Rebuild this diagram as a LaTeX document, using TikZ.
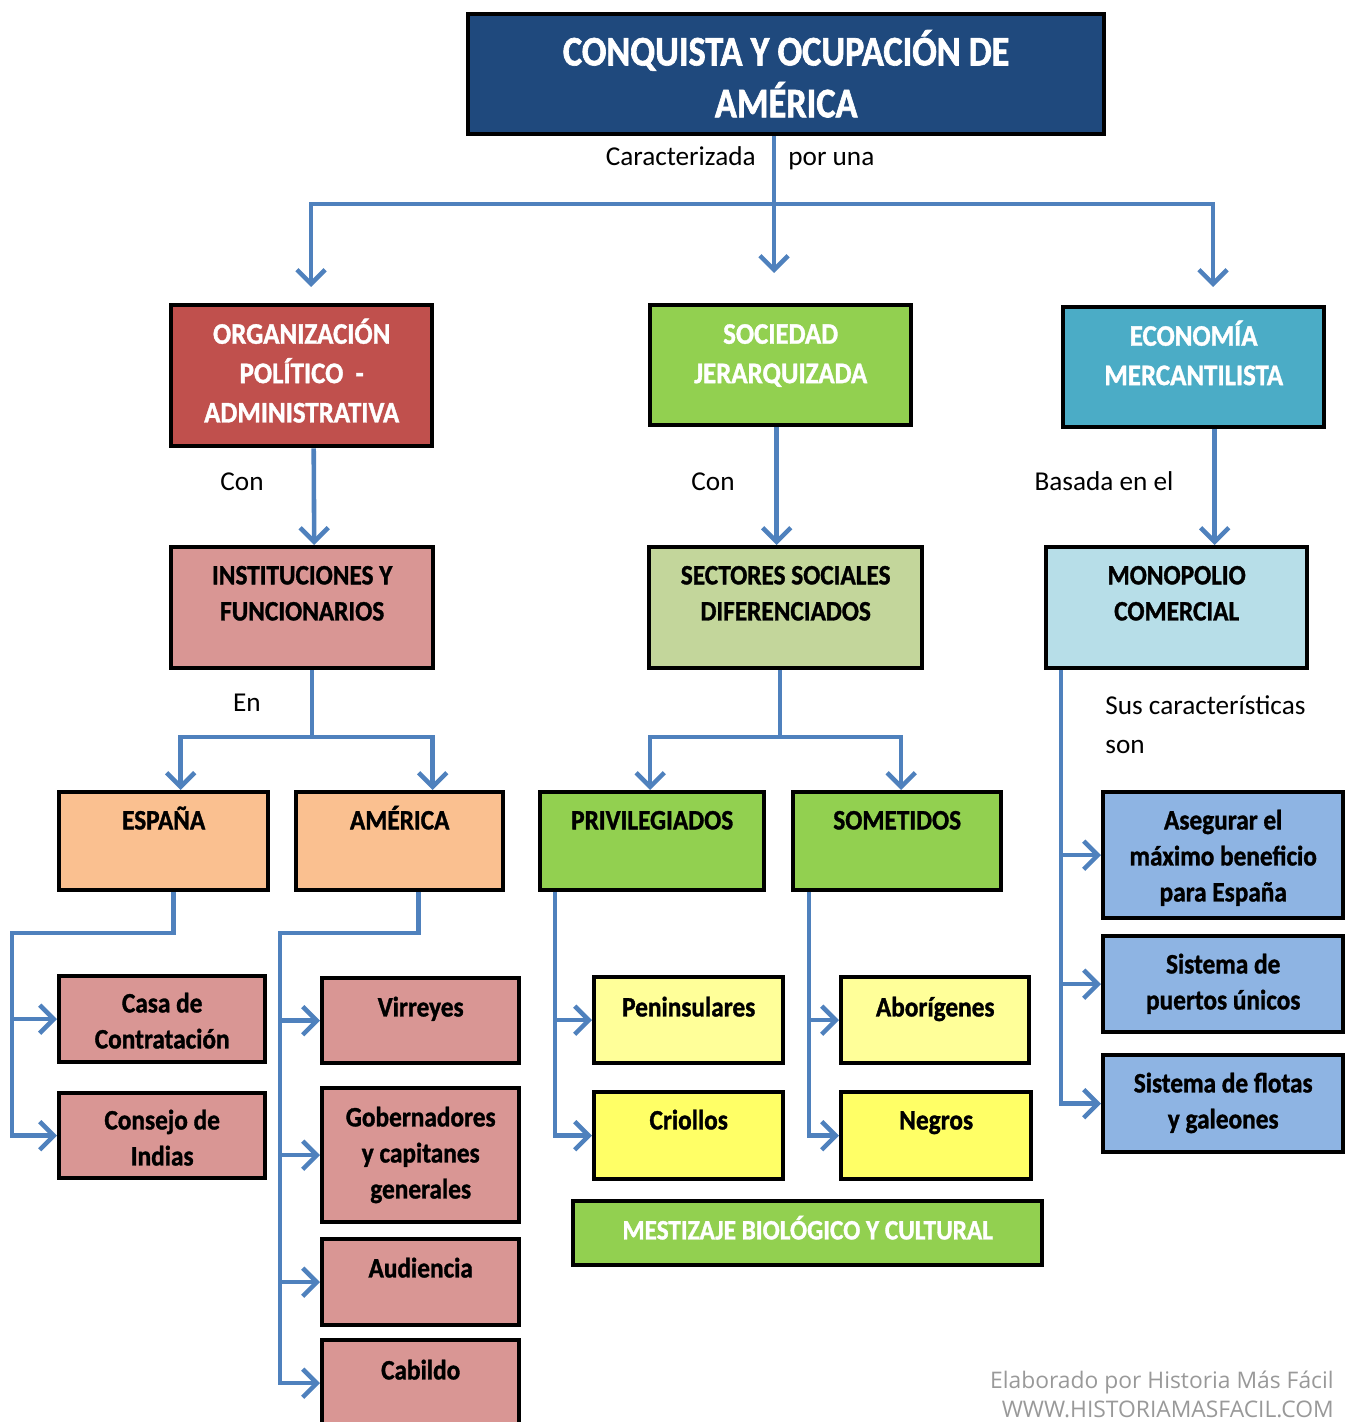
\documentclass[tikz,border=0pt]{standalone}
\usepackage{fontspec}
\setmainfont{Carlito}
\newfontfamily\cajafont[FakeStretch=0.9,FakeBold=1.2]{Carlito}
\newfontfamily\titulofont[FakeStretch=0.86,FakeBold=1.5]{Carlito}
\newfontfamily\piefont{Open Sans}
\usetikzlibrary{arrows.meta}

\definecolor{azuloscuro}{HTML}{1F497D}
\definecolor{azulflecha}{HTML}{4F81BD}
\definecolor{rojo}{HTML}{C0504D}
\definecolor{rosa}{HTML}{D99694}
\definecolor{verde}{HTML}{92D050}
\definecolor{verdeclaro}{HTML}{C3D69B}
\definecolor{turquesa}{HTML}{4BACC6}
\definecolor{celeste}{HTML}{B7DEE8}
\definecolor{naranja}{HTML}{FAC090}
\definecolor{amarillo}{HTML}{FFFF99}
\definecolor{amarillofuerte}{HTML}{FFFF66}
\definecolor{lila}{HTML}{8EB4E3}

\newdimen\px \px=0.02cm
% box text: [gap]{width}{height}{text}
\newcommand\caja[4][12]{\parbox[c][#3\px][t]{#2\px}{\centering\vspace*{#1\px}\strut#4\par}}

\begin{document}
\begin{tikzpicture}[x=0.02cm,y=-0.02cm,
    caja/.style={draw=black,line width=2.5pt,inner sep=0pt,anchor=north west,
        font=\cajafont\bfseries\fontsize{16pt}{20.5pt}\selectfont},
    cajagrande/.style={caja,font=\cajafont\bfseries\fontsize{17pt}{22.4pt}\selectfont,text=white},
    etiqueta/.style={font=\fontsize{15.5pt}{19pt}\selectfont,inner sep=0pt},
    linea/.style={draw=azulflecha,line width=2.6pt},
    flecha/.style={linea,-{Straight Barb[length=8pt,width=16pt]}}]

    \useasboundingbox (0,0) rectangle (1346,1422);
    \clip (0,0) rectangle (1346,1422);

    % main title
    \node[caja,fill=azuloscuro,text=white,font=\titulofont\bfseries\fontsize{24pt}{29.5pt}\selectfont] (titulo) at (466,12)
        {\caja[15]{636}{120}{CONQUISTA Y OCUPACIÓN DE\\AMÉRICA}};

    % first level
    \node[cajagrande,fill=rojo] (org) at (169,303) {\caja[11]{261}{141}{ORGANIZACIÓN\\POLÍTICO \ -\\ADMINISTRATIVA}};
    \node[cajagrande,fill=verde] (soc) at (648,303) {\caja[11]{261}{120}{SOCIEDAD\\JERARQUIZADA}};
    \node[cajagrande,fill=turquesa] (eco) at (1061,305) {\caja[11]{261}{120}{ECONOMÍA\\MERCANTILISTA}};

    % second level
    \node[caja,fill=rosa] (inst) at (169,545) {\caja{262}{121}{INSTITUCIONES Y\\FUNCIONARIOS}};
    \node[caja,fill=verdeclaro] (sect) at (647,545) {\caja{273}{121}{SECTORES SOCIALES\\DIFERENCIADOS}};
    \node[caja,fill=celeste] (mono) at (1044,545) {\caja{261}{121}{MONOPOLIO\\COMERCIAL}};

    % third level
    \node[caja,fill=naranja] (espana) at (57,790) {\caja{209}{98}{ESPAÑA}};
    \node[caja,fill=naranja] (america) at (294,790) {\caja{207}{98}{AMÉRICA}};
    \node[caja,fill=verde] (priv) at (538,790) {\caja{224}{98}{PRIVILEGIADOS}};
    \node[caja,fill=verde] (somet) at (791,790) {\caja{208}{98}{SOMETIDOS}};

    \node[caja,fill=rosa] (casa) at (57,974) {\caja[11]{206}{86}{Casa de\\Contratación}};
    \node[caja,fill=rosa] (consejo) at (57,1091) {\caja[11]{206}{85}{Consejo de\\Indias}};

    \node[caja,fill=rosa] (virreyes) at (320,976) {\caja[13]{197}{85}{Virreyes}};
    \node[caja,fill=rosa] (gober) at (320,1086) {\caja[13]{197}{134}{Gobernadores\\y capitanes\\generales}};
    \node[caja,fill=rosa] (audiencia) at (320,1237) {\caja[13]{197}{86}{Audiencia}};
    \node[caja,fill=rosa] (cabildo) at (320,1338) {\caja[14]{197}{86}{Cabildo}};

    \node[caja,fill=amarillo] (penin) at (592,975) {\caja[14]{189}{86}{Peninsulares}};
    \node[caja,fill=amarillofuerte] (criollos) at (592,1090) {\caja{189}{87}{Criollos}};
    \node[caja,fill=amarillo] (abori) at (839,975) {\caja[14]{188}{86}{Aborígenes}};
    \node[caja,fill=amarillofuerte] (negros) at (839,1090) {\caja{190}{87}{Negros}};
    \node[caja,fill=verde,text=white] (mestizaje) at (571,1199) {\caja[13]{469}{64}{MESTIZAJE BIOLÓGICO Y CULTURAL}};

    \node[caja,fill=lila] (asegurar) at (1101,790) {\caja{240}{126}{Asegurar el\\máximo beneficio\\para España}};
    \node[caja,fill=lila] (puertos) at (1101,934) {\caja{240}{96}{Sistema de\\puertos únicos}};
    \node[caja,fill=lila] (flotas) at (1101,1053) {\caja{240}{97}{Sistema de flotas\\y galeones}};

    % linking words
    \node[etiqueta,anchor=base east] (caract) at (756,166) {Caracterizada};
    \node[etiqueta,anchor=base west] (poruna) at (788,166) {por una};
    \node[etiqueta,anchor=base] (con1) at (242,490) {Con};
    \node[etiqueta,anchor=base] (con2) at (713,490) {Con};
    \node[etiqueta,anchor=base] (basada) at (1104,490) {Basada en el};
    \node[etiqueta,anchor=base] (en) at (247,711) {En};
    \node[etiqueta,anchor=base west] (sus) at (1105,714) {Sus características};
    \node[etiqueta,anchor=base west] (son) at (1105,753) {son};

    % footer
    \node[font=\piefont\fontsize{13pt}{15pt}\selectfont,text=black!40,anchor=base east,inner sep=0pt] (pie1) at (1334,1388) {Elaborado por Historia Más Fácil};
    \node[font=\piefont\fontsize{13pt}{15pt}\selectfont,text=black!40,anchor=base east,inner sep=0pt] (pie2) at (1334,1417) {WWW.HISTORIAMASFACIL.COM};

    % connectors
    \coordinate (bus) at (774,204);
    \coordinate (fin1) at (311,287);
    \coordinate (fin2) at (774,273);
    \coordinate (fin3) at (1213,287);
    \draw[linea] (titulo.south -| bus) -- (bus);
    \draw[flecha] (bus) -| (fin1);
    \draw[flecha] (bus) -- (fin2);
    \draw[flecha] (bus) -| (fin3);

    \draw[flecha] ([xshift=12\px]org.south) -- ([xshift=12\px]inst.north);
    \draw[flecha] ([xshift=-4\px]soc.south) -- ([xshift=-9\px]sect.north);
    \coordinate (ec) at ([xshift=21\px]eco.south);
    \draw[flecha] (ec) -- (ec |- mono.north);

    \coordinate (enbus) at (312,737);
    \draw[linea] (inst.south -| enbus) -- (enbus);
    \draw[flecha] (enbus) -| ([xshift=17\px]espana.north);
    \draw[flecha] (enbus) -| ([xshift=33\px]america.north);

    \coordinate (sbus) at (780,737);
    \draw[linea] (sect.south -| sbus) -- (sbus);
    \draw[flecha] (sbus) -| ([xshift=-2\px]priv.north);
    \draw[flecha] (sbus) -| ([xshift=4\px]somet.north);

    \coordinate (izq1) at (12,933);
    \draw[flecha] ([xshift=10\px]espana.south) |- (izq1) |- (consejo.west);
    \draw[flecha] (izq1 |- casa.west) -- (casa.west);

    \coordinate (izq2) at (280,933);
    \draw[flecha] ([xshift=19\px]america.south) |- (izq2) |- (cabildo.west);
    \draw[flecha] (izq2 |- virreyes.west) -- (virreyes.west);
    \draw[flecha] (izq2 |- gober.west) -- (gober.west);
    \draw[flecha] (izq2 |- audiencia.west) -- (audiencia.west);

    \coordinate (pv) at ([xshift=17\px]priv.south west);
    \draw[flecha] (pv) |- (criollos.west);
    \draw[flecha] (pv |- penin.west) -- (penin.west);

    \coordinate (sv) at ([xshift=18\px]somet.south west);
    \draw[flecha] (sv) |- (negros.west);
    \draw[flecha] (sv |- abori.west) -- (abori.west);

    \coordinate (mv) at ([xshift=17\px]mono.south west);
    \draw[flecha] (mv) |- (flotas.west);
    \draw[flecha] (mv |- asegurar.west) -- (asegurar.west);
    \draw[flecha] (mv |- puertos.west) -- (puertos.west);
\end{tikzpicture}
\end{document}
